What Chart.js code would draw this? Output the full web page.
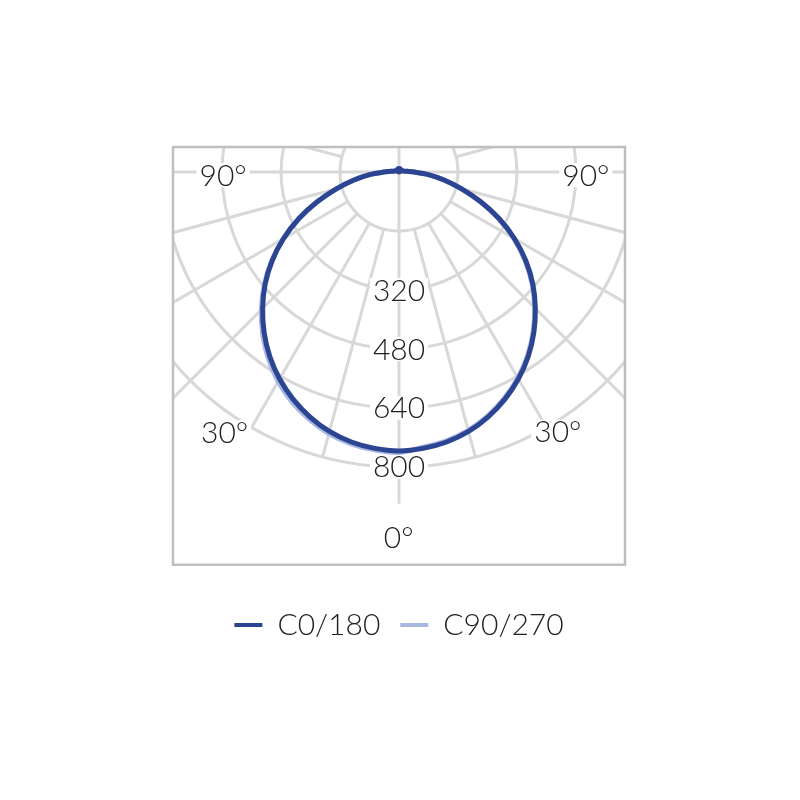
<!DOCTYPE html>
<html>
<head>
<meta charset="utf-8">
<title>Polar intensity</title>
<script src="https://cdn.jsdelivr.net/npm/chart.js@4.4.1/dist/chart.umd.min.js"></script>
<style>
    html, body { margin: 0; padding: 0; background: #ffffff; }
    #wrap { width: 800px; height: 800px; }
</style>
</head>
<body>
<div id="wrap"><canvas id="polarChart"></canvas></div>
<script>
// gamma angles (deg from nadir) and intensities (cd)
const gammaAngles = [0, 5, 10, 15, 20, 25, 30, 35, 40, 45, 50, 55, 60, 65, 70, 75, 80, 85, 90, 95, 100, 120, 150, 180];
const c0Values   = [757, 753, 744, 729, 707, 680, 648, 611, 569, 523, 474, 420, 362, 300, 236, 176, 124, 80, 42, 22, 14, 8, 6, 5];
const c180Values = [757, 753, 744, 729, 707, 680, 648, 611, 569, 523, 474, 420, 362, 300, 236, 176, 124, 80, 42, 22, 14, 8, 6, 5];
const c90Values  = [754, 750, 741, 726, 704, 677, 645, 608, 566, 520, 471, 417, 359, 298, 234, 175, 123, 79, 41, 22, 14, 8, 6, 5];
const c270Values = [761, 757, 749, 735, 714, 688, 656, 618, 575, 528, 477, 422, 363, 301, 236, 176, 124, 80, 42, 22, 14, 8, 6, 5];

// grid rings and their labels
const ringValues = [160, 320, 480, 640, 800];
const ringLabels = ['', '320', '480', '640', '800'];
const angleLabels = ['90°', '90°', '30°', '30°', '0°'];
const seriesNames = ['C0/180', 'C90/270'];

const FONT = '"Lato", "Open Sans", sans-serif';

// left half (C180 / C270) then right half (C0 / C90), 0 deg pointing down
function toPoints(leftVals, rightVals) {
    const pts = [];
    for (let i = gammaAngles.length - 1; i >= 0; i--) {
        const a = gammaAngles[i] * Math.PI / 180;
        pts.push({ x: -leftVals[i] * Math.sin(a), y: -leftVals[i] * Math.cos(a) });
    }
    for (let i = 1; i < gammaAngles.length; i++) {
        const a = gammaAngles[i] * Math.PI / 180;
        pts.push({ x: rightVals[i] * Math.sin(a), y: -rightVals[i] * Math.cos(a) });
    }
    return pts;
}

// Polar grid, frame and labels
const polarGrid = {
    id: 'polarGrid',
    beforeDatasetsDraw(chart) {
        const { ctx } = chart;
        const xs = chart.scales.x, ys = chart.scales.y;
        const cx = xs.getPixelForValue(0), cy = ys.getPixelForValue(0);
        const pr = v => xs.getPixelForValue(v) - cx;

        // frame in data units
        const bx0 = xs.getPixelForValue(-613), bx1 = xs.getPixelForValue(613);
        const by0 = ys.getPixelForValue(68), by1 = ys.getPixelForValue(-1066);

        ctx.save();
        ctx.beginPath();
        ctx.rect(bx0, by0, bx1 - bx0, by1 - by0);
        ctx.clip();

        ctx.strokeStyle = '#d8d8d8';
        ctx.lineWidth = 3;
        ringValues.forEach(v => {
            ctx.beginPath();
            ctx.arc(cx, cy, pr(v), 0, Math.PI * 2);
            ctx.stroke();
        });

        for (let deg = 0; deg < 360; deg += 15) {
            const a = deg * Math.PI / 180;
            const axis = deg % 90 === 0;
            const d = deg > 180 ? 360 - deg : deg;
            const r0 = axis ? 0 : pr(ringValues[0]);
            const r1 = (d === 15 || d === 30) ? pr(800) : pr(900);
            ctx.beginPath();
            ctx.moveTo(cx + r0 * Math.sin(a), cy + r0 * Math.cos(a));
            ctx.lineTo(cx + r1 * Math.sin(a), cy + r1 * Math.cos(a));
            ctx.stroke();
        }
        ctx.restore();

        ctx.save();
        ctx.strokeStyle = '#bfbfbf';
        ctx.lineWidth = 2.5;
        ctx.strokeRect(bx0, by0, bx1 - bx0, by1 - by0);

        ctx.font = '300 30px ' + FONT;
        ctx.textAlign = 'center';
        ctx.textBaseline = 'middle';
        const label = (txt, px, py) => {
            const w = ctx.measureText(txt).width;
            ctx.fillStyle = '#ffffff';
            ctx.fillRect(px - w / 2 - 3, py - 12, w + 6, 24);
            ctx.fillStyle = '#222222';
            ctx.fillText(txt, px, py + 1);
        };
        ringValues.forEach((v, i) => {
            if (ringLabels[i]) label(ringLabels[i], cx, ys.getPixelForValue(-v));
        });
        const anchors = [[-477, -8], [507, -8], [-473, -706], [431, -705], [-1, -991]];
        angleLabels.forEach((t, i) => {
            label(t, xs.getPixelForValue(anchors[i][0]), ys.getPixelForValue(anchors[i][1]));
        });
        ctx.restore();
    }
};

// end points (gamma 180) meet at the top of the curve
const endDot = c => (c.dataIndex === 0 || c.dataIndex === c.dataset.data.length - 1) ? 2 : 0;

const ctx = document.getElementById('polarChart').getContext('2d');
new Chart(ctx, {
    type: 'scatter',
    data: {
        datasets: [{
            label: seriesNames[0],
            data: toPoints(c180Values, c0Values),
            borderColor: '#2c4593',
            backgroundColor: '#2c4593',
            borderWidth: 5,
            showLine: true,
            pointRadius: endDot,
            pointBorderWidth: 4,
            tension: 0.3
        }, {
            label: seriesNames[1],
            data: toPoints(c270Values, c90Values),
            borderColor: '#aab7e2',
            backgroundColor: '#aab7e2',
            borderWidth: 5,
            showLine: true,
            pointRadius: 0,
            pointBorderWidth: 4,
            tension: 0.3
        }]
    },
    options: {
        responsive: true,
        maintainAspectRatio: false,
        animation: false,
        layout: {
            padding: { left: 173, right: 175, top: 147, bottom: 150 }
        },
        scales: {
            x: { type: 'linear', min: -613, max: 613, display: false },
            y: { type: 'linear', min: -1134.5, max: 68, display: false }
        },
        plugins: {
            legend: {
                position: 'bottom',
                labels: {
                    usePointStyle: true,
                    pointStyle: 'line',
                    pointStyleWidth: 28,
                    padding: 20,
                    color: '#222222',
                    font: { family: FONT, size: 30, weight: '300' }
                }
            },
            tooltip: { enabled: false }
        }
    },
    plugins: [polarGrid]
});
</script>
</body>
</html>
